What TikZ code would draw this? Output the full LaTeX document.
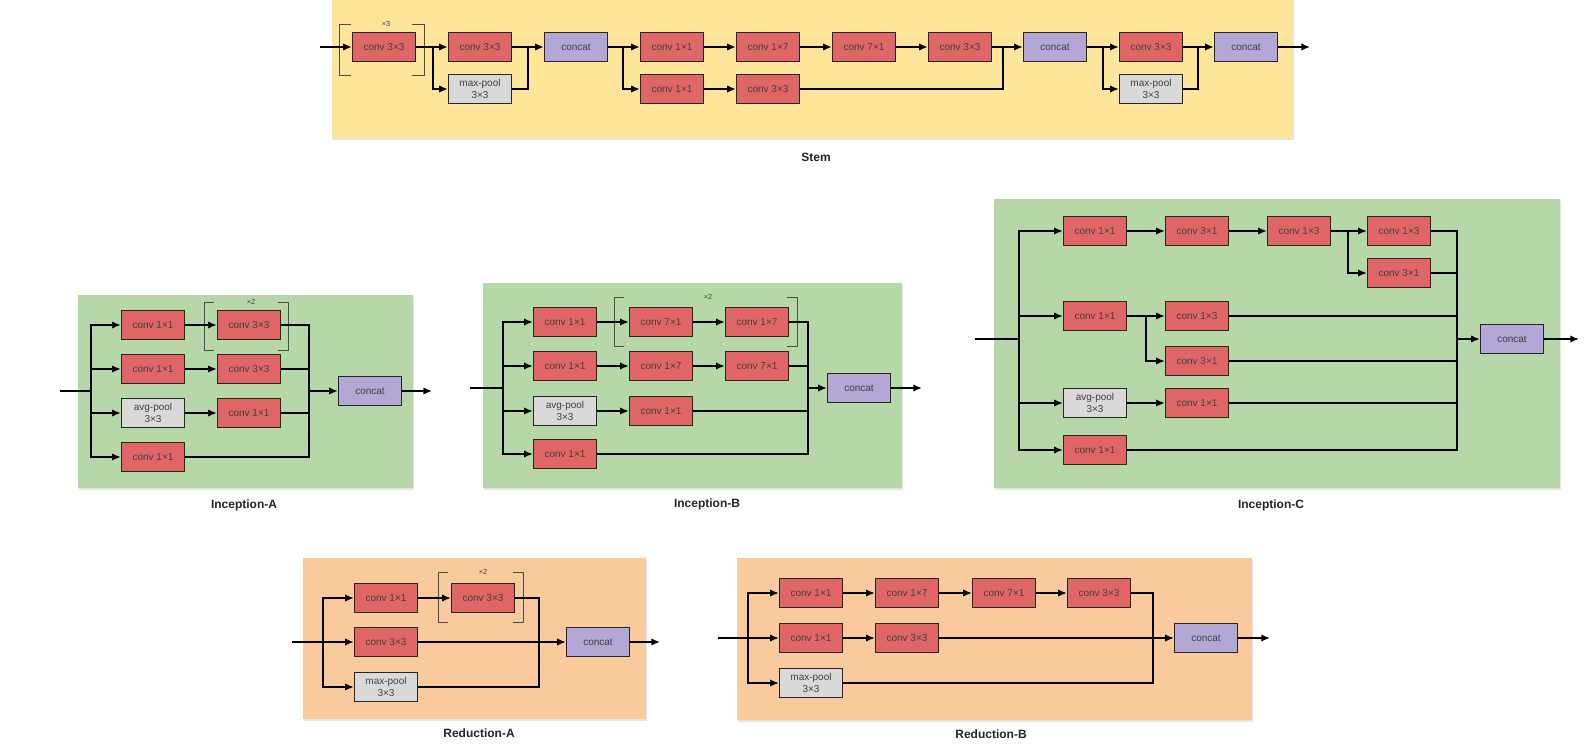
\documentclass[tikz,border=0pt]{standalone}
\usepackage{fontspec}
\setmainfont{Liberation Sans}
\usepackage{tikz}
\usetikzlibrary{arrows.meta,shadows}
\definecolor{stemfill}{HTML}{FFE599}
\definecolor{incfill}{HTML}{B6D7A8}
\definecolor{redfill}{HTML}{F9CB9C}
\definecolor{convred}{HTML}{E06666}
\definecolor{catpurple}{HTML}{B4A7D6}
\definecolor{poolgrey}{HTML}{D9D9D9}

\begin{document}
\begin{tikzpicture}[x=0.75pt,y=-0.75pt,
  box/.style={draw=black!85,line width=1.2pt,minimum width=47pt,minimum height=21.5pt,inner sep=0pt,
    align=center,text=black!75,font=\fontsize{7.5}{8.5}\selectfont,
    drop shadow={opacity=0.25,shadow xshift=0.8pt,shadow yshift=-0.8pt}},
  conv/.style={box,fill=convred},
  pool/.style={box,fill=poolgrey},
  cat/.style={box,fill=catpurple},
  panel/.style={drop shadow={opacity=0.2,shadow xshift=1pt,shadow yshift=-1.5pt}},
  ln/.style={line width=1.2pt},
  arr/.style={line width=1.2pt,-{Latex[length=6.5pt,width=5.5pt]}},
  brk/.style={line width=0.6pt,black!70},
  rep/.style={font=\fontsize{5.5}{6}\selectfont,text=black!75},
  title/.style={font=\bfseries\fontsize{9}{10}\selectfont,text=black!85}]
\fill [white] (0,0) rectangle (1594,751);
\useasboundingbox (0,0) rectangle (1594,751);

\fill [panel,stemfill] (332,-3) rectangle (1293,138);
\fill [panel,incfill] (78,295) rectangle (413,488);
\fill [panel,incfill] (483,283) rectangle (902,488);
\fill [panel,incfill] (994,199) rectangle (1560,488);
\fill [panel,redfill] (303,558) rectangle (646,719);
\fill [panel,redfill] (737,558) rectangle (1252,720);

% Stem
\node [conv] (s1) at (384,47) {conv 3×3};
\node [conv] (s2) at (480,47) {conv 3×3};
\node [pool] (s3) at (480,89) {max-pool\\3×3};
\node [cat] (s4) at (576,47) {concat};
\node [conv] (s5) at (672,47) {conv 1×1};
\node [conv] (s6) at (768,47) {conv 1×7};
\node [conv] (s7) at (864,47) {conv 7×1};
\node [conv] (s8) at (960,47) {conv 3×3};
\node [conv] (s9) at (672,89) {conv 1×1};
\node [conv] (s10) at (768,89) {conv 3×3};
\node [cat] (s11) at (1055,47) {concat};
\node [conv] (s12) at (1151,47) {conv 3×3};
\node [pool] (s13) at (1151,89) {max-pool\\3×3};
\node [cat] (s14) at (1246,47) {concat};
\coordinate (in1) at (320,47);
\coordinate (sx1) at (433,47);
\coordinate (mx1) at (528,47);
\coordinate (sx2) at (623,47);
\coordinate (mx2) at (1003,47);
\coordinate (sx3) at (1103,47);
\coordinate (mx3) at (1198,47);
\coordinate (out1) at (1310,47);
\draw [brk] (351,24) -| (339,75) -- (351,75);
\draw [brk] (412,24) -| (424,75) -- (412,75);
\node [rep] (n1) at (386,24) {×3};
\draw [arr] (in1) -- (s1);
\draw [arr] (s1) -- (s2);
\draw [arr] (sx1) |- (s3);
\draw [ln] (s3) -| (mx1);
\draw [arr] (s2) -- (s4);
\draw [arr] (s4) -- (s5);
\draw [arr] (sx2) |- (s9);
\draw [arr] (s5) -- (s6);
\draw [arr] (s6) -- (s7);
\draw [arr] (s7) -- (s8);
\draw [arr] (s9) -- (s10);
\draw [ln] (s10) -| (mx2);
\draw [arr] (s8) -- (s11);
\draw [arr] (s11) -- (s12);
\draw [arr] (sx3) |- (s13);
\draw [ln] (s13) -| (mx3);
\draw [arr] (s12) -- (s14);
\draw [arr] (s14) -- (out1);
\node [title] (t1) at (816,157) {Stem};

% Inception-A
\node [conv] (a1) at (153,325) {conv 1×1};
\node [conv] (a2) at (249,325) {conv 3×3};
\node [conv] (a3) at (153,369) {conv 1×1};
\node [conv] (a4) at (249,369) {conv 3×3};
\node [pool] (a5) at (153,413) {avg-pool\\3×3};
\node [conv] (a6) at (249,413) {conv 1×1};
\node [conv] (a7) at (153,457) {conv 1×1};
\node [cat] (a8) at (370,391) {concat};
\coordinate (in2) at (60,391);
\coordinate (sx4) at (91,391);
\coordinate (mx4) at (309,391);
\coordinate (out2) at (432,391);
\draw [brk] (214,302) -| (204,350) -- (214,350);
\draw [brk] (278,302) -| (288,350) -- (278,350);
\node [rep] (n2) at (251,302) {×2};
\draw [ln] (in2) -- (sx4);
\draw [arr] (sx4) |- (a1);
\draw [arr] (sx4) |- (a3);
\draw [arr] (sx4) |- (a5);
\draw [arr] (sx4) |- (a7);
\draw [arr] (a1) -- (a2);
\draw [arr] (a3) -- (a4);
\draw [arr] (a5) -- (a6);
\draw [ln] (a2) -| (mx4);
\draw [ln] (a4) -| (mx4);
\draw [ln] (a6) -| (mx4);
\draw [ln] (a7) -| (mx4);
\draw [arr] (mx4) -- (a8);
\draw [arr] (a8) -- (out2);
\node [title] (t2) at (244,505) {Inception-A};

% Inception-B
\node [conv] (b1) at (565,322) {conv 1×1};
\node [conv] (b2) at (661,322) {conv 7×1};
\node [conv] (b3) at (757,322) {conv 1×7};
\node [conv] (b4) at (565,366) {conv 1×1};
\node [conv] (b5) at (661,366) {conv 1×7};
\node [conv] (b6) at (757,366) {conv 7×1};
\node [pool] (b7) at (565,411) {avg-pool\\3×3};
\node [conv] (b8) at (661,411) {conv 1×1};
\node [conv] (b9) at (565,454) {conv 1×1};
\node [cat] (b10) at (859,388) {concat};
\coordinate (in3) at (470,388);
\coordinate (sx5) at (503,388);
\coordinate (mx5) at (808,388);
\coordinate (out3) at (922,388);
\draw [brk] (624,297) -| (614,346) -- (624,346);
\draw [brk] (787,297) -| (797,346) -- (787,346);
\node [rep] (n3) at (708,297) {×2};
\draw [ln] (in3) -- (sx5);
\draw [arr] (sx5) |- (b1);
\draw [arr] (sx5) |- (b4);
\draw [arr] (sx5) |- (b7);
\draw [arr] (sx5) |- (b9);
\draw [arr] (b1) -- (b2);
\draw [arr] (b2) -- (b3);
\draw [arr] (b4) -- (b5);
\draw [arr] (b5) -- (b6);
\draw [arr] (b7) -- (b8);
\draw [ln] (b3) -| (mx5);
\draw [ln] (b6) -| (mx5);
\draw [ln] (b8) -| (mx5);
\draw [ln] (b9) -| (mx5);
\draw [arr] (mx5) -- (b10);
\draw [arr] (b10) -- (out3);
\node [title] (t3) at (707,504) {Inception-B};

% Inception-C
\node [conv] (c1) at (1095,231) {conv 1×1};
\node [conv] (c2) at (1197,231) {conv 3×1};
\node [conv] (c3) at (1299,231) {conv 1×3};
\node [conv] (c4) at (1399,231) {conv 1×3};
\node [conv] (c5) at (1399,273) {conv 3×1};
\node [conv] (c6) at (1095,316) {conv 1×1};
\node [conv] (c7) at (1197,316) {conv 1×3};
\node [conv] (c8) at (1197,361) {conv 3×1};
\node [pool] (c9) at (1095,403) {avg-pool\\3×3};
\node [conv] (c10) at (1197,403) {conv 1×1};
\node [conv] (c11) at (1095,450) {conv 1×1};
\node [cat] (c12) at (1512,339) {concat};
\coordinate (in4) at (975,339);
\coordinate (sx6) at (1019,339);
\coordinate (sx7) at (1348,231);
\coordinate (sx8) at (1146,316);
\coordinate (mx6) at (1457,339);
\coordinate (out4) at (1579,339);
\draw [ln] (in4) -- (sx6);
\draw [arr] (sx6) |- (c1);
\draw [arr] (sx6) |- (c6);
\draw [arr] (sx6) |- (c9);
\draw [arr] (sx6) |- (c11);
\draw [arr] (c1) -- (c2);
\draw [arr] (c2) -- (c3);
\draw [arr] (c3) -- (c4);
\draw [arr] (sx7) |- (c5);
\draw [arr] (c6) -- (c7);
\draw [arr] (sx8) |- (c8);
\draw [arr] (c9) -- (c10);
\draw [ln] (c4) -| (mx6);
\draw [ln] (c5) -| (mx6);
\draw [ln] (c7) -| (mx6);
\draw [ln] (c8) -| (mx6);
\draw [ln] (c10) -| (mx6);
\draw [ln] (c11) -| (mx6);
\draw [arr] (mx6) -- (c12);
\draw [arr] (c12) -- (out4);
\node [title] (t4) at (1271,505) {Inception-C};

% Reduction-A
\node [conv] (r1) at (386,598) {conv 1×1};
\node [conv] (r2) at (483,598) {conv 3×3};
\node [conv] (r3) at (386,642) {conv 3×3};
\node [pool] (r4) at (386,687) {max-pool\\3×3};
\node [cat] (r5) at (598,642) {concat};
\coordinate (in5) at (292,642);
\coordinate (sx9) at (323,642);
\coordinate (mx7) at (539,642);
\coordinate (out5) at (660,642);
\draw [brk] (448,572) -| (438,622) -- (448,622);
\draw [brk] (513,572) -| (523,622) -- (513,622);
\node [rep] (n4) at (483,572) {×2};
\draw [ln] (in5) -- (sx9);
\draw [arr] (sx9) |- (r1);
\draw [arr] (sx9) |- (r3);
\draw [arr] (sx9) |- (r4);
\draw [arr] (r1) -- (r2);
\draw [ln] (r2) -| (mx7);
\draw [ln] (r4) -| (mx7);
\draw [arr] (r3) -- (r5);
\draw [arr] (r5) -- (out5);
\node [title] (t5) at (479,733) {Reduction-A};

% Reduction-B
\node [conv] (q1) at (811,593) {conv 1×1};
\node [conv] (q2) at (907,593) {conv 1×7};
\node [conv] (q3) at (1004,593) {conv 7×1};
\node [conv] (q4) at (1099,593) {conv 3×3};
\node [conv] (q5) at (811,638) {conv 1×1};
\node [conv] (q6) at (907,638) {conv 3×3};
\node [pool] (q7) at (811,683) {max-pool\\3×3};
\node [cat] (q8) at (1206,638) {concat};
\coordinate (in6) at (718,638);
\coordinate (sx10) at (748,638);
\coordinate (mx8) at (1153,638);
\coordinate (out6) at (1270,638);
\draw [ln] (in6) -- (sx10);
\draw [arr] (sx10) |- (q1);
\draw [arr] (sx10) |- (q5);
\draw [arr] (sx10) |- (q7);
\draw [arr] (q1) -- (q2);
\draw [arr] (q2) -- (q3);
\draw [arr] (q3) -- (q4);
\draw [arr] (q5) -- (q6);
\draw [ln] (q4) -| (mx8);
\draw [ln] (q7) -| (mx8);
\draw [arr] (q6) -- (q8);
\draw [arr] (q8) -- (out6);
\node [title] (t6) at (991,734) {Reduction-B};
\end{tikzpicture}
\end{document}
